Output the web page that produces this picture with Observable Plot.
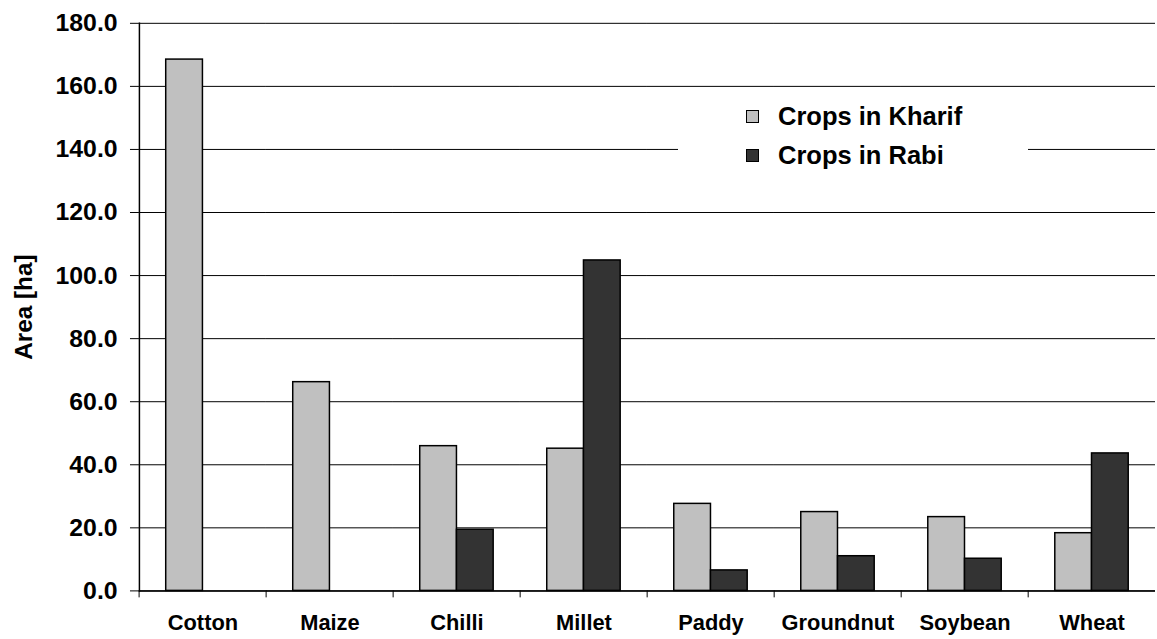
<!DOCTYPE html>
<html>
<head>
<meta charset="utf-8">
<script src="https://cdn.jsdelivr.net/npm/d3@7"></script>
<script src="https://cdn.jsdelivr.net/npm/@observablehq/plot@0.6"></script>
<style>
  html, body { margin: 0; padding: 0; background: #fff; overflow: hidden; }
  #wrap { position: relative; width: 1157px; height: 639px; overflow: hidden; font-family: "Liberation Sans", Arial, sans-serif; }
  #legend { position: absolute; left: 678px; top: 92px; width: 350px; height: 106px; background: #fff; }
  .row { position: absolute; left: 68px; height: 30px; display: flex; align-items: center; font-weight: bold; font-size: 25.5px; color: #000; }
  .sw { width: 11px; height: 11px; border: 1px solid #000; margin-right: 19px; }
</style>
</head>
<body>
<div id="wrap"></div>
<script>
const crops = ["Cotton", "Maize", "Chilli", "Millet", "Paddy", "Groundnut", "Soybean", "Wheat"];
const kharif = [168.5, 66.2, 45.9, 45.1, 27.6, 25.0, 23.4, 18.3];
const rabi = [null, null, 19.4, 104.8, 6.5, 11.0, 10.2, 43.6];
const seriesNames = ["Crops in Kharif", "Crops in Rabi"];
const seriesColors = ["#c0c0c0", "#333333"];
const yTicks = [0, 20, 40, 60, 80, 100, 120, 140, 160, 180];

const rows = [];
crops.forEach((c, i) => {
  if (kharif[i] != null) rows.push({crop: c, series: seriesNames[0], value: kharif[i]});
  if (rabi[i] != null) rows.push({crop: c, series: seriesNames[1], value: rabi[i]});
});

const W = 1166, H = 639, ML = 137, MR = 0, MT = 23, MB = 44;
const step = (W - ML - MR) / crops.length;
const font = "'Liberation Sans', Arial, sans-serif";

const chart = Plot.plot({
  width: W,
  height: H,
  marginLeft: ML,
  marginRight: MR,
  marginTop: MT,
  marginBottom: MB,
  style: {fontFamily: font, fontWeight: "bold", color: "#000", background: "#fff", overflow: "visible"},
  fx: {domain: crops, padding: 0},
  x: {domain: seriesNames, paddingInner: 0, paddingOuter: 0.707, axis: null},
  y: {domain: [0, 180]},
  color: {domain: seriesNames, range: seriesColors},
  marks: [
    Plot.gridY(yTicks, {stroke: "#000", strokeOpacity: 1, strokeWidth: 1}),
    Plot.barY(rows, {fx: "crop", x: "series", y: "value", fill: "series", stroke: "#000", strokeWidth: 1.5, inset: 0}),
    Plot.ruleY([0], {stroke: "#000", strokeWidth: 1.5}),
    Plot.frame({anchor: "left", fx: crops[0], stroke: "#000", strokeWidth: 1.5}),
    Plot.axisY(yTicks, {
      tickFormat: d => d.toFixed(1), tickSize: 9, tickPadding: 13, fontSize: 25, fontWeight: "bold",
      label: "Area [ha]", labelAnchor: "center", labelArrow: "none", labelOffset: 126
    }),
    Plot.axisFx({anchor: "bottom", tickSize: 0, tickPadding: 24, fontSize: 22, fontWeight: "bold", label: null}),
    Plot.axisFx({anchor: "bottom", tickSize: 7, text: null, dx: -step / 2, label: null, stroke: "#000"})
  ]
});

const wrap = document.getElementById("wrap");
wrap.appendChild(chart);

// style the y-axis title size
chart.querySelectorAll("text").forEach(t => {
  if (t.textContent === "Area [ha]") { t.setAttribute("font-size", "24.5"); }
});

// Legend (HTML overlay)
const legend = document.createElement("div");
legend.id = "legend";
seriesNames.forEach((name, i) => {
  const row = document.createElement("div");
  row.className = "row";
  row.style.top = (9 + i * 39) + "px";
  const sw = document.createElement("div");
  sw.className = "sw";
  sw.style.background = seriesColors[i];
  const t = document.createElement("span");
  t.textContent = name;
  row.appendChild(sw);
  row.appendChild(t);
  legend.appendChild(row);
});
wrap.appendChild(legend);
</script>
</body>
</html>
